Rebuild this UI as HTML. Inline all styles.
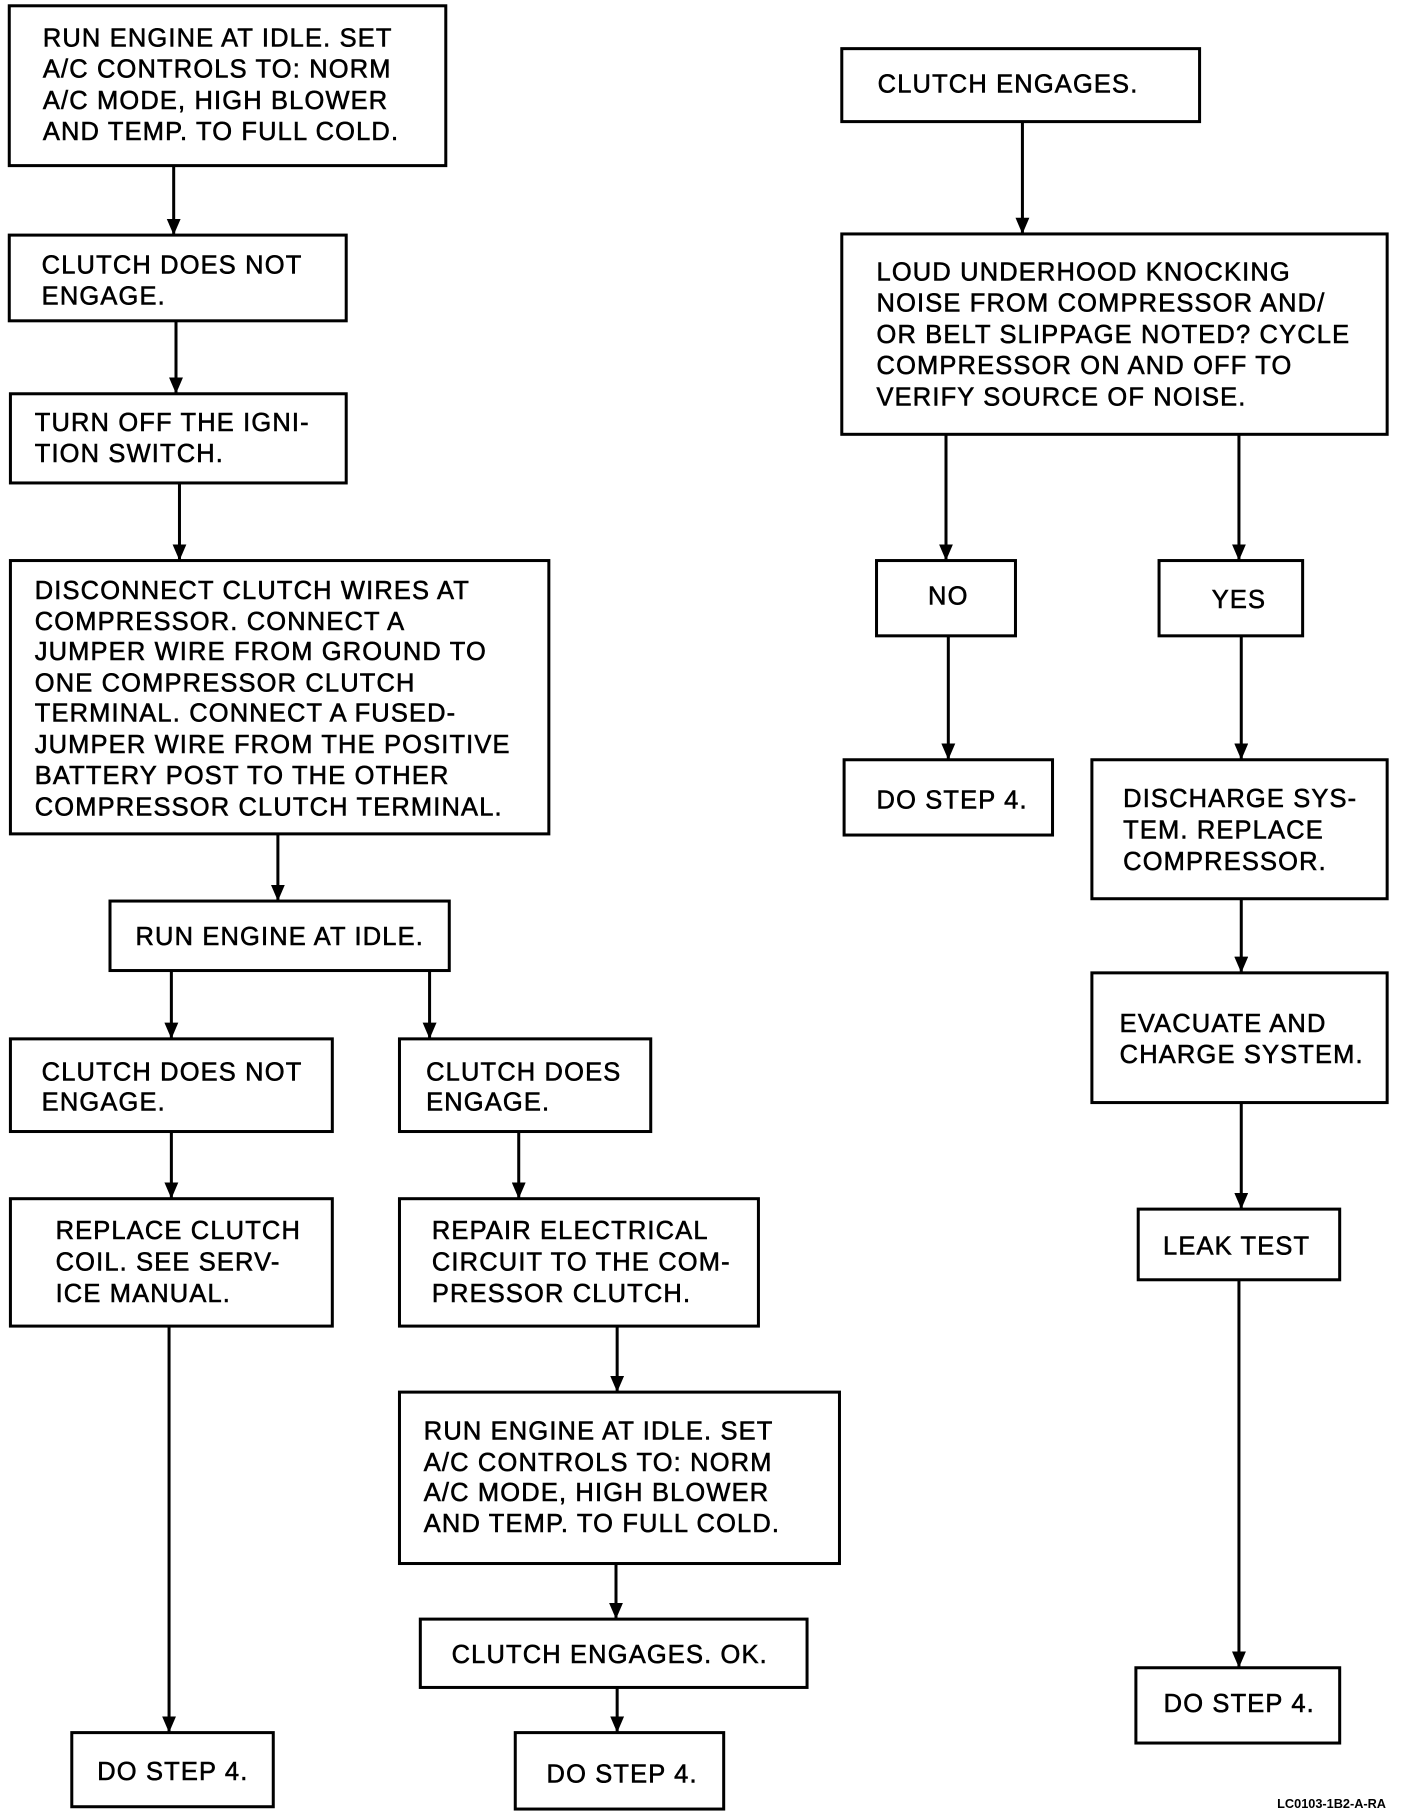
<!DOCTYPE html>
<html><head><meta charset="utf-8"><style>
html,body{margin:0;padding:0;background:#fff;}
svg{display:block;}
text{font-family:"Liberation Sans",Arial,sans-serif;font-size:22px;letter-spacing:1px;fill:#000;stroke:#000;stroke-width:0.5;}
.b{fill:none;stroke:#000;stroke-width:2.6;}
.l{stroke:#000;stroke-width:2.6;}
.a{fill:#000;stroke:none;}
</style></head><body>
<svg width="1408" height="1816" viewBox="0 0 1216 1568" preserveAspectRatio="none" xmlns="http://www.w3.org/2000/svg">
<defs><marker id="m" markerWidth="14" markerHeight="12" refX="13" refY="6" orient="auto" markerUnits="userSpaceOnUse" viewBox="0 0 14 12"><path d="M0,0 L14,6 L0,12 z" class="a"/></marker></defs>
<g class="l" marker-end="url(#m)">
<line x1="150" y1="143" x2="150" y2="202"/>
<line x1="152" y1="277" x2="152" y2="339"/>
<line x1="155" y1="417" x2="155" y2="483"/>
<line x1="240" y1="720" x2="240" y2="777"/>
<line x1="148" y1="838" x2="148" y2="896"/>
<line x1="371" y1="838" x2="371" y2="896"/>
<line x1="148" y1="977" x2="148" y2="1034"/>
<line x1="448" y1="977" x2="448" y2="1034"/>
<line x1="146" y1="1145" x2="146" y2="1495"/>
<line x1="533" y1="1145" x2="533" y2="1201"/>
<line x1="532" y1="1350" x2="532" y2="1397"/>
<line x1="533" y1="1457" x2="533" y2="1495"/>
<line x1="883" y1="105" x2="883" y2="201"/>
<line x1="817" y1="375" x2="817" y2="483"/>
<line x1="1070" y1="375" x2="1070" y2="483"/>
<line x1="819" y1="549" x2="819" y2="655"/>
<line x1="1072" y1="549" x2="1072" y2="655"/>
<line x1="1072" y1="776" x2="1072" y2="839"/>
<line x1="1072" y1="952" x2="1072" y2="1043"/>
<line x1="1070" y1="1105" x2="1070" y2="1439"/>
</g>
<rect class="b" x="8" y="5" width="377" height="138"/>
<text x="37" y="40">RUN ENGINE AT IDLE. SET</text>
<text x="37" y="67">A/C CONTROLS TO: NORM</text>
<text x="37" y="94">A/C MODE, HIGH BLOWER</text>
<text x="37" y="121">AND TEMP. TO FULL COLD.</text>

<rect class="b" x="8" y="203" width="291" height="74"/>
<text x="36" y="236">CLUTCH DOES NOT</text>
<text x="36" y="263">ENGAGE.</text>

<rect class="b" x="9" y="340" width="290" height="77"/>
<text x="30" y="372">TURN OFF THE IGNI-</text>
<text x="30" y="399">TION SWITCH.</text>

<rect class="b" x="9" y="484" width="465" height="236"/>
<text x="30" y="517">DISCONNECT CLUTCH WIRES AT</text>
<text x="30" y="544">COMPRESSOR. CONNECT A</text>
<text x="30" y="570">JUMPER WIRE FROM GROUND TO</text>
<text x="30" y="597">ONE COMPRESSOR CLUTCH</text>
<text x="30" y="623">TERMINAL. CONNECT A FUSED-</text>
<text x="30" y="650">JUMPER WIRE FROM THE POSITIVE</text>
<text x="30" y="677">BATTERY POST TO THE OTHER</text>
<text x="30" y="704">COMPRESSOR CLUTCH TERMINAL.</text>

<rect class="b" x="95" y="778" width="293" height="60"/>
<text x="117" y="816">RUN ENGINE AT IDLE.</text>

<rect class="b" x="9" y="897" width="278" height="80"/>
<text x="36" y="933">CLUTCH DOES NOT</text>
<text x="36" y="959">ENGAGE.</text>

<rect class="b" x="345" y="897" width="217" height="80"/>
<text x="368" y="933">CLUTCH DOES</text>
<text x="368" y="959">ENGAGE.</text>

<rect class="b" x="9" y="1035" width="278" height="110"/>
<text x="48" y="1070">REPLACE CLUTCH</text>
<text x="48" y="1097">COIL. SEE SERV-</text>
<text x="48" y="1124">ICE MANUAL.</text>

<rect class="b" x="345" y="1035" width="310" height="110"/>
<text x="373" y="1070">REPAIR ELECTRICAL</text>
<text x="373" y="1097">CIRCUIT TO THE COM-</text>
<text x="373" y="1124">PRESSOR CLUTCH.</text>

<rect class="b" x="345" y="1202" width="380" height="148"/>
<text x="366" y="1243">RUN ENGINE AT IDLE. SET</text>
<text x="366" y="1270">A/C CONTROLS TO: NORM</text>
<text x="366" y="1296">A/C MODE, HIGH BLOWER</text>
<text x="366" y="1323">AND TEMP. TO FULL COLD.</text>

<rect class="b" x="363" y="1398" width="334" height="59"/>
<text x="390" y="1436">CLUTCH ENGAGES. OK.</text>

<rect class="b" x="62" y="1496" width="174" height="64"/>
<text x="84" y="1537">DO STEP 4.</text>

<rect class="b" x="445" y="1496" width="180" height="66"/>
<text x="472" y="1539">DO STEP 4.</text>

<rect class="b" x="727" y="42" width="309" height="63"/>
<text x="758" y="80">CLUTCH ENGAGES.</text>

<rect class="b" x="727" y="202" width="471" height="173"/>
<text x="757" y="242">LOUD UNDERHOOD KNOCKING</text>
<text x="757" y="269">NOISE FROM COMPRESSOR AND/</text>
<text x="757" y="296">OR BELT SLIPPAGE NOTED? CYCLE</text>
<text x="757" y="323">COMPRESSOR ON AND OFF TO</text>
<text x="757" y="350">VERIFY SOURCE OF NOISE.</text>

<rect class="b" x="757" y="484" width="120" height="65"/>
<text x="819" y="522" text-anchor="middle">NO</text>

<rect class="b" x="1001" y="484" width="124" height="65"/>
<text x="1070" y="525" text-anchor="middle">YES</text>

<rect class="b" x="729" y="656" width="180" height="65"/>
<text x="757" y="698">DO STEP 4.</text>

<rect class="b" x="943" y="656" width="255" height="120"/>
<text x="970" y="697">DISCHARGE SYS-</text>
<text x="970" y="724">TEM. REPLACE</text>
<text x="970" y="751">COMPRESSOR.</text>

<rect class="b" x="943" y="840" width="255" height="112"/>
<text x="967" y="891">EVACUATE AND</text>
<text x="967" y="918">CHARGE SYSTEM.</text>

<rect class="b" x="983" y="1044" width="174" height="61"/>
<text x="1068" y="1083" text-anchor="middle">LEAK TEST</text>

<rect class="b" x="981" y="1440" width="176" height="65"/>
<text x="1005" y="1478">DO STEP 4.</text>

<text x="1197" y="1561" text-anchor="end" style="font-size:11px;letter-spacing:0;font-weight:bold;stroke-width:0">LC0103-1B2-A-RA</text>
</svg>
</body></html>
